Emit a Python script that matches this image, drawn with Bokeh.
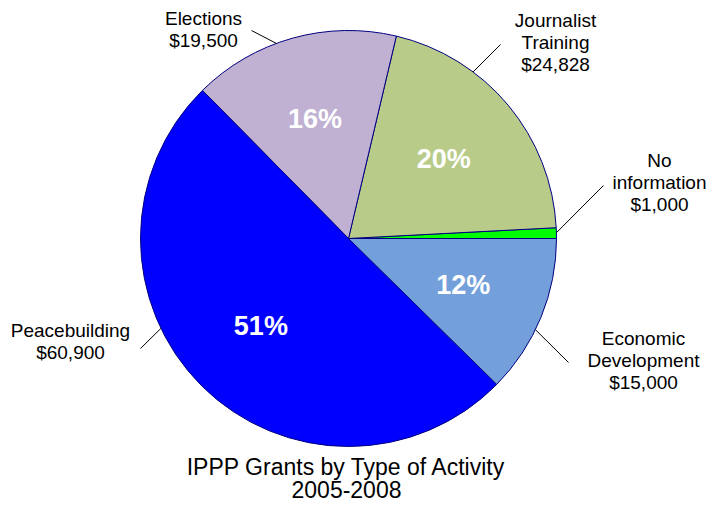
import numpy as np
from bokeh.plotting import figure
from bokeh.models import Range1d, ColumnDataSource
from bokeh.core.properties import value
from bokeh.embed import file_html
from bokeh.resources import INLINE

# ---- data (counter-clockwise from 3 o'clock) ----
categories = ["No information", "Journalist Training", "Elections", "Peacebuilding", "Economic Development"]
amounts = [1000, 24828, 19500, 60900, 15000]
amount_labels = ["$1,000", "$24,828", "$19,500", "$60,900", "$15,000"]
pct_labels = ["", "20%", "16%", "51%", "12%"]
name_lines = [["No", "information"], ["Journalist", "Training"], ["Elections"],
              ["Peacebuilding"], ["Economic", "Development"]]
colors = ["#00FF00", "#B8CB88", "#C0B0D2", "#0000FF", "#739FDB"]
title_lines = ["IPPP Grants by Type of Activity", "2005-2008"]

# ---- layout (page pixel coordinates) ----
PAGE_H = 506
def py(y):
    return PAGE_H - y

CX, CY, R = 348, 238, 208
label_anchor = [(659, 160), (555, 20), (203, 18), (70, 330), (643, 338)]
leader_inner_deg = [1.6, 53.2, 110.3, 205.6, 334.0]
leader_outer = [(603, 185), (500, 44), (251, 30), (140, 348), (568, 362)]
LINE_STEP = 22
FONT = "Liberation Sans"

p = figure(width=706, height=504, x_range=Range1d(0, 706), y_range=Range1d(2, 506),
           output_backend="svg", toolbar_location=None, min_border=0,
           x_axis_location=None, y_axis_location=None)
p.grid.visible = False
p.outline_line_color = None
p.background_fill_color = "white"

vals = np.array(amounts, dtype=float)
frac = vals / vals.sum()
ends = np.cumsum(frac) * 2 * np.pi
starts = ends - frac * 2 * np.pi
mids = (starts + ends) / 2

src = ColumnDataSource(dict(start=starts, end=ends, color=colors))
p.wedge(x=CX, y=py(CY), radius=R, start_angle="start", end_angle="end",
        fill_color="color", line_color="#000080", line_width=1, source=src)

# percentage labels
pr = 124
p.text(x=list(CX + pr * np.cos(mids)), y=list(py(CY) + pr * np.sin(mids)), text=pct_labels,
       text_color="white", text_font=value(FONT), text_font_style="bold",
       text_font_size="27px", text_align="center", text_baseline="middle")

# leader lines
xi = [CX + R * np.cos(np.radians(a)) for a in leader_inner_deg]
yi = [py(CY) + R * np.sin(np.radians(a)) for a in leader_inner_deg]
xo = [pt[0] for pt in leader_outer]
yo = [py(pt[1]) for pt in leader_outer]
p.segment(x0=xo, y0=yo, x1=xi, y1=yi, line_color="black", line_width=1)

# category labels
tx, ty, tt = [], [], []
for i, (ax, ay) in enumerate(label_anchor):
    lines = name_lines[i] + [amount_labels[i]]
    for j, ln in enumerate(lines):
        tx.append(ax)
        ty.append(py(ay + j * LINE_STEP))
        tt.append(ln)
p.text(x=tx, y=ty, text=tt, text_color="black", text_font=value(FONT),
       text_font_size="19px", text_align="center", text_baseline="alphabetic")

# title
p.text(x=[346, 346], y=[py(466), py(489)], text=title_lines, text_color="black",
       text_font=value(FONT), text_font_size="23px", text_align="center",
       text_baseline="alphabetic")

open("out.html", "w").write(file_html(p, INLINE))
